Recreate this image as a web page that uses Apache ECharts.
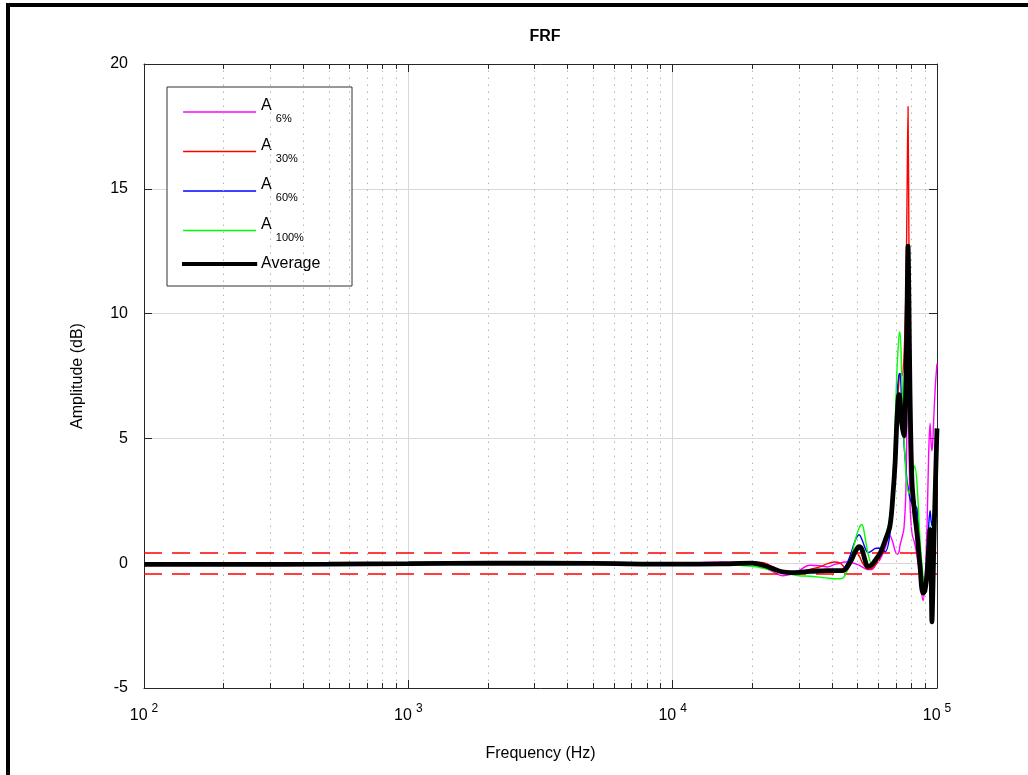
<!DOCTYPE html>
<html><head><meta charset="utf-8">
<script src="https://cdn.jsdelivr.net/npm/echarts@6/dist/echarts.min.js"></script>
<style>html,body{margin:0;padding:0;background:#fff}#chart{width:1028px;height:775px}</style>
</head><body><div id="chart"></div>
<script>
// ---- data ----
const freqHz = [100, 200, 500, 1000, 2000, 5000, 10000, 15000, 20000, 22000, 24000, 26000, 28000, 30000, 33000, 36000, 38500, 41000, 43000, 44500, 45700, 47300, 49000, 50700, 52000, 53500, 54800, 56800, 58700, 60900, 63600, 66400, 68200, 69400, 70600, 71800, 72400, 73600, 75000, 76300, 77000, 77700, 78300, 79000, 80400, 82300, 84000, 86200, 88500, 90000, 91700, 92900, 94100, 95000, 95700, 96500, 97400, 98700, 100000];
const ampA6 = [-0.03, -0.03, -0.02, 0.0, 0.0, 0.0, -0.02, 0.05, 0.0, -0.15, -0.35, -0.50, -0.45, -0.30, -0.08, -0.10, -0.15, -0.05, 0.0, 0.05, 0.05, 0.03, -0.02, -0.08, -0.15, -0.22, -0.25, -0.25, -0.05, 0.15, 0.60, 1.10, 0.80, 0.50, 0.35, 0.45, 0.70, 1.00, 1.40, 3.00, 6.00, 8.00, 5.50, 2.50, 1.20, 0.80, 0.30, -0.50, -1.50, -0.80, 1.50, 4.20, 5.60, 4.80, 4.50, 5.00, 6.00, 7.20, 8.00];
const ampA30 = [-0.03, -0.03, -0.02, 0.0, 0.0, 0.0, -0.03, -0.02, 0.05, 0.02, -0.15, -0.35, -0.40, -0.38, -0.25, -0.15, -0.02, 0.05, 0.0, -0.15, -0.26, 0.05, 0.42, 0.30, 0.05, -0.15, -0.25, -0.20, -0.05, 0.25, 0.90, 1.70, 2.80, 4.20, 6.00, 7.30, 7.60, 7.50, 8.30, 11.0, 14.5, 18.3, 13.0, 8.50, 3.80, 2.20, 1.30, -0.10, -1.10, -1.00, -0.30, 0.50, 1.20, 0.00, -1.90, -0.80, 1.00, 3.20, 5.20];
const ampA60 = [-0.04, -0.04, -0.03, -0.02, 0.0, -0.01, -0.04, -0.03, 0.0, -0.06, -0.20, -0.33, -0.36, -0.35, -0.30, -0.28, -0.27, -0.28, -0.28, -0.20, 0.0, 0.40, 0.90, 1.14, 0.95, 0.60, 0.42, 0.50, 0.60, 0.60, 0.46, 1.20, 3.20, 5.00, 6.80, 7.55, 7.60, 6.30, 4.80, 3.80, 3.30, 3.06, 2.80, 2.60, 2.40, 2.30, 2.20, 0.50, -1.20, -0.90, 0.30, 1.40, 2.10, 1.70, 1.50, 1.80, 2.20, 2.00, 1.90];
const ampA100 = [-0.04, -0.04, -0.03, -0.02, 0.0, -0.01, -0.04, -0.05, -0.12, -0.20, -0.30, -0.38, -0.45, -0.50, -0.52, -0.56, -0.60, -0.62, -0.62, -0.55, -0.30, 0.20, 0.90, 1.40, 1.55, 1.00, 0.40, -0.06, 0.10, 0.40, 1.00, 1.90, 3.50, 5.50, 7.80, 9.10, 9.26, 7.50, 5.00, 3.60, 3.10, 2.90, 2.80, 2.85, 3.20, 3.90, 3.20, 1.00, -0.50, -0.85, -0.90, 0.00, 1.50, 1.20, 0.90, 1.20, 1.80, 2.00, 2.00];
const ampAvg = [-0.05, -0.05, -0.04, -0.02, 0.0, -0.01, -0.04, -0.03, 0.0, -0.08, -0.22, -0.35, -0.38, -0.37, -0.33, -0.31, -0.30, -0.30, -0.30, -0.28, -0.15, 0.10, 0.45, 0.66, 0.55, 0.10, -0.14, -0.05, 0.15, 0.40, 0.90, 1.50, 2.80, 4.00, 5.80, 6.75, 6.60, 5.60, 5.10, 7.50, 10.0, 12.7, 10.5, 7.00, 3.30, 2.00, 1.20, -0.10, -1.20, -1.10, -0.40, 0.50, 1.34, -0.20, -2.35, -1.00, 1.00, 3.30, 5.40];
const seriesNames = ['A6%', 'A30%', 'A60%', 'A100%', 'Average'];
const toleranceDb = [0.42, -0.42];
const minorFreqs = [200, 300, 400, 500, 600, 700, 800, 900, 2000, 3000, 4000, 5000, 6000, 7000, 8000, 9000, 20000, 30000, 40000, 50000, 60000, 70000, 80000, 90000];
const xMin = 100, xMax = 100000;
const yMin = -5, yMax = 20, yStep = 5;
const titleText = 'FRF';
const xName = 'Frequency (Hz)';
const yName = 'Amplitude (dB)';

// ---- styling ----
const FONT = 'Liberation Sans, Arial, Helvetica, sans-serif';
const colors = ['#ff00ff', '#ff0000', '#0000ff', '#00ff00', '#000000'];
const widths = [1.4, 1.4, 1.4, 1.4, 4.8];
const ampSets = [ampA6, ampA30, ampA60, ampA100, ampAvg];
const axisCol = '#262626';

const curveSeries = seriesNames.map((name, k) => ({
  name, type: 'line', symbol: 'none', showSymbol: false, smooth: 0.35,
  data: freqHz.map((f, i) => [f, ampSets[k][i]]),
  lineStyle: { color: colors[k], width: widths[k] },
  itemStyle: { color: colors[k] },
  z: 3 + k, silent: true, animation: false
}));

const tickLen = 0.2;
const minorTickLines = [];
minorFreqs.forEach(f => {
  minorTickLines.push([{ coord: [f, yMin] }, { coord: [f, yMin + tickLen] }]);
  minorTickLines.push([{ coord: [f, yMax] }, { coord: [f, yMax - tickLen] }]);
});

const helperSeries = [
  { name: 'minorGrid', type: 'line', data: [], silent: true, z: 1,
    markLine: { silent: true, symbol: 'none', animation: false, label: { show: false },
      lineStyle: { color: '#b5b5b5', width: 1, type: [1.5, 5.5] },
      emphasis: { disabled: true },
      data: minorFreqs.map(f => ({ xAxis: f })) } },
  { name: 'minorTicks', type: 'line', data: [], silent: true, z: 2,
    markLine: { silent: true, symbol: 'none', animation: false, label: { show: false },
      lineStyle: { color: axisCol, width: 1, type: 'solid' },
      emphasis: { disabled: true },
      data: minorTickLines } },
  { name: 'tolerance', type: 'line', data: [], silent: true, z: 10,
    markLine: { silent: true, symbol: 'none', animation: false, label: { show: false },
      lineStyle: { color: '#ff0000', width: 1.5, type: [18, 10] },
      emphasis: { disabled: true },
      data: toleranceDb.map(v => ({ yAxis: v })) } }
];

const legendData = seriesNames.map((name, k) => ({
  name, icon: 'rect',
  itemStyle: k === 4
    ? { color: colors[k], borderColor: colors[k], borderWidth: 2.2 }
    : { color: colors[k], borderWidth: 0 }
}));

const chart = echarts.init(document.getElementById('chart'), null, { renderer: 'canvas' });
chart.setOption({
  animation: false,
  backgroundColor: '#ffffff',
  textStyle: { fontFamily: FONT },
  title: { text: titleText, left: 540, top: 24, textAlign: 'center',
    textStyle: { fontFamily: FONT, fontSize: 16, fontWeight: 'bold', color: '#000' } },
  grid: { left: 144, right: 91, top: 64, bottom: 87, containLabel: false, outerBoundsMode: 'none' },
  legend: {
    data: legendData, orient: 'vertical', left: 182, top: 98, padding: 0,
    itemWidth: 73, itemHeight: 1.6, itemGap: 13, selectedMode: false,
    formatter: name => name === 'Average' ? '{t|Average}' : '{a|A}{s|' + name.slice(1) + '}',
    textStyle: { color: '#000', fontFamily: FONT,
      rich: {
        a: { fontSize: 16, color: '#000', fontFamily: FONT, padding: [0, 0, 12, 0] },
        s: { fontSize: 11, color: '#000', fontFamily: FONT, padding: [14, 0, 0, 4] },
        t: { fontSize: 16, color: '#000', fontFamily: FONT }
      } }
  },
  xAxis: [
    { type: 'log', logBase: 10, min: xMin, max: xMax, position: 'bottom',
      name: xName, nameLocation: 'middle', nameGap: 58,
      nameTextStyle: { fontSize: 16, color: '#000', fontFamily: FONT },
      axisLine: { show: true, onZero: false, lineStyle: { color: axisCol, width: 1 } },
      axisTick: { show: true, inside: true, length: 8, lineStyle: { color: axisCol } },
      axisLabel: { margin: 12, color: '#000',
        formatter: v => '{b|10}{e|' + Math.round(Math.log10(v)) + '}',
        rich: { b: { fontSize: 16, fontFamily: FONT, color: '#000', padding: [8, 0, 0, 0] },
                e: { fontSize: 12, fontFamily: FONT, color: '#000', padding: [0, 0, 6, 4] } } },
      splitLine: { show: true, lineStyle: { color: '#d9d9d9', width: 1 } } },
    { type: 'log', logBase: 10, min: xMin, max: xMax, position: 'top',
      axisLine: { show: true, onZero: false, lineStyle: { color: axisCol, width: 1 } },
      axisTick: { show: true, inside: true, length: 8, lineStyle: { color: axisCol } },
      axisLabel: { show: false }, splitLine: { show: false } }
  ],
  yAxis: [
    { type: 'value', min: yMin, max: yMax, interval: yStep, position: 'left',
      name: yName, nameLocation: 'middle', nameGap: 58,
      nameTextStyle: { fontSize: 16, color: '#000', fontFamily: FONT },
      axisLine: { show: true, onZero: false, lineStyle: { color: axisCol, width: 1 } },
      axisTick: { show: true, inside: true, length: 8, lineStyle: { color: axisCol } },
      axisLabel: { margin: 16, fontSize: 16, color: '#000', fontFamily: FONT },
      splitLine: { show: true, lineStyle: { color: '#d9d9d9', width: 1 } } },
    { type: 'value', min: yMin, max: yMax, interval: yStep, position: 'right',
      axisLine: { show: true, onZero: false, lineStyle: { color: axisCol, width: 1 } },
      axisTick: { show: true, inside: true, length: 8, lineStyle: { color: axisCol } },
      axisLabel: { show: false }, splitLine: { show: false } }
  ],
  graphic: [
    { type: 'rect', z: 3, silent: true, shape: { x: 167, y: 87, width: 185, height: 199 },
      style: { fill: '#ffffff', stroke: '#333333', lineWidth: 1 } },
    { type: 'line', z: 100, silent: true, shape: { x1: 8, y1: 3, x2: 8, y2: 775 }, style: { stroke: '#000', lineWidth: 4 } },
    { type: 'line', z: 100, silent: true, shape: { x1: 6, y1: 5, x2: 1028, y2: 5 }, style: { stroke: '#000', lineWidth: 4 } }
  ],
  series: helperSeries.concat(curveSeries)
});
</script>
</body></html>
